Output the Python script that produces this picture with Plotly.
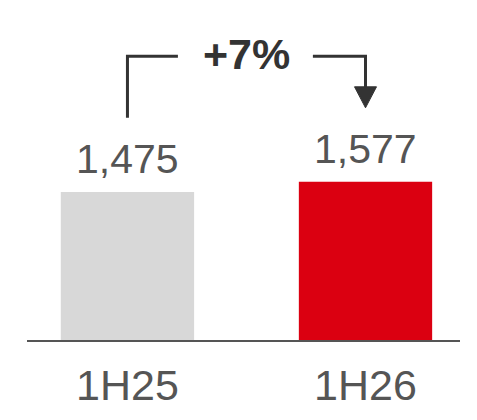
import plotly.graph_objects as go

periods = ["1H25", "1H26"]
values = [1475, 1577]
bar_colors = ["#d8d8d8", "#db0011"]
change_label = "+7%"

x_pos = list(range(len(periods)))
bracket_top = 2830
bracket_low = 2215
arrow_tip = 2315

fig = go.Figure(
    go.Bar(
        x=x_pos,
        y=values,
        width=0.56,
        marker=dict(color=bar_colors, line=dict(width=0)),
        hoverinfo="skip",
    )
)

# value labels above each bar
for xi, v in zip(x_pos, values):
    fig.add_annotation(
        x=xi, y=v, text=f"{v:,}", showarrow=False,
        yanchor="bottom", yshift=8,
        font=dict(family="Liberation Sans, Arial", size=41, color="#555555"),
    )

# bracket from first bar to second bar
fig.add_shape(
    type="path",
    path=f"M 0,{bracket_low} L 0,{bracket_top} L 0.212,{bracket_top}",
    line=dict(color="#333333", width=3),
)
fig.add_shape(
    type="path",
    path=f"M 0.779,{bracket_top} L 1,{bracket_top} L 1,{arrow_tip + 200}",
    line=dict(color="#333333", width=3),
)
fig.add_shape(
    type="path",
    xsizemode="pixel", xanchor=1,
    ysizemode="pixel", yanchor=arrow_tip,
    path="M -11,21 L 11,21 L 0,0 Z",
    fillcolor="#333333",
    line=dict(color="#333333", width=1),
)
fig.add_annotation(
    x=0.5, y=bracket_top, text=f"<b>{change_label}</b>", showarrow=False,
    yshift=2,
    font=dict(family="Liberation Sans, Arial", size=43, color="#333333"),
)

# the page adds an 8px body margin, so the figure is sized to fit inside it
fig.update_layout(
    width=469, height=412,
    margin=dict(l=19, r=17, t=0, b=80),
    plot_bgcolor="white", paper_bgcolor="white",
    showlegend=False,
    xaxis=dict(
        range=[-0.422, 1.397],
        tickvals=x_pos, ticktext=periods,
        showline=True, linecolor="#555555", linewidth=2,
        ticks="outside", ticklen=6, tickcolor="rgba(0,0,0,0)",
        showgrid=False, zeroline=False,
        tickfont=dict(family="Liberation Sans, Arial", size=43, color="#555555"),
    ),
    yaxis=dict(range=[0, 3310], visible=False),
)

fig.write_html("out.html")
